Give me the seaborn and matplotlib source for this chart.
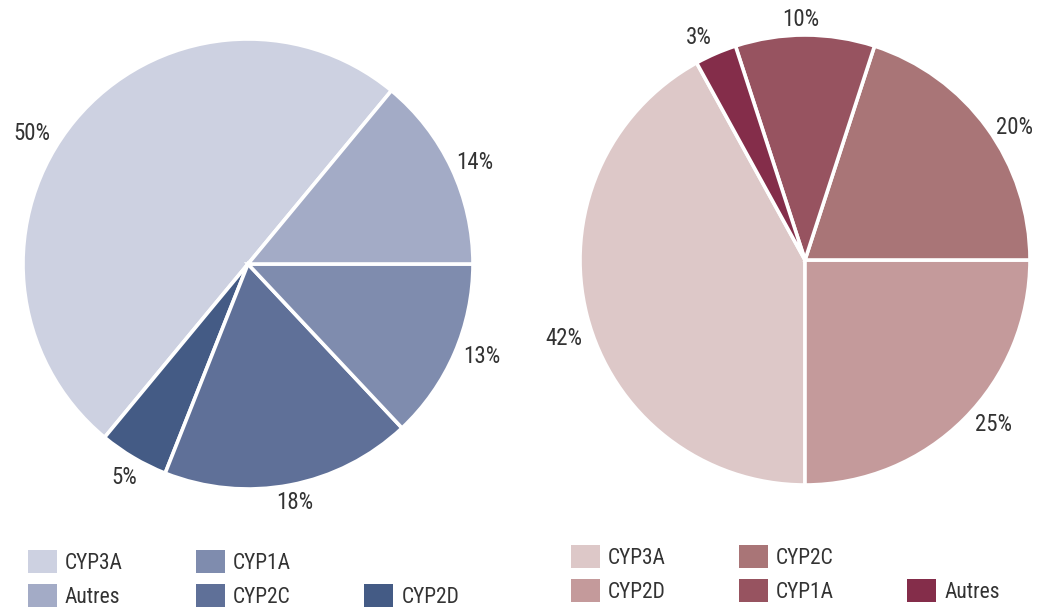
import matplotlib
matplotlib.use('Agg')
from matplotlib import pyplot as plt
from matplotlib import font_manager
from matplotlib.patches import Patch
import seaborn as sns

# Data, in drawing order (counter-clockwise from the start angle)
categories = ['CYP3A', 'CYP2D', 'CYP2C', 'CYP1A', 'Autres']
left_values = [50, 5, 18, 13, 14]
right_values = [42, 25, 20, 10, 3]

left_colors = ['#CDD1E1', '#445B85', '#5F7098', '#7F8CAE', '#A3ABC6']
right_colors = ['#DDC8C8', '#C49A9B', '#A97577', '#975360', '#842D4A']

# Legend order (column-wise, None = empty slot)
left_legend = ['CYP3A', 'Autres', 'CYP1A', 'CYP2C', None, 'CYP2D']
right_legend = ['CYP3A', 'CYP2D', 'CYP2C', 'CYP1A', None, 'Autres']

# Label positions in pie data coordinates
left_label_pos = [(-0.96, 0.58), (-0.55, -0.95), (0.21, -1.06), (1.04, -0.41), (1.01, 0.45)]
right_label_pos = [(-1.07, -0.35), (0.84, -0.73), (0.93, 0.59), (-0.02, 1.07), (-0.47, 0.99)]

W, H = 1041, 608
TEXT = '#333333'

sns.set_theme(style='white')

# condensed grotesque, first one that is installed
installed = {f.name for f in font_manager.fontManager.ttflist}
prefs = ['Liberation Sans Narrow', 'Arial Narrow', 'Roboto Condensed', 'Archivo Narrow',
         'PT Sans Narrow', 'Fira Sans Condensed', 'Sofia Sans Condensed', 'Roboto']
family = next(n for n in prefs + ['DejaVu Sans'] if n in installed)
plt.rcParams['font.family'] = [family, 'DejaVu Sans']

fig = plt.figure(figsize=(W / 100, H / 100), dpi=100)


def px_axes(x0, y0, size):
    return fig.add_axes([x0 / W, 1 - (y0 + size) / H, size / W, size / H])


def draw_pie(ax, values, colors, start, label_pos):
    ax.pie(values, colors=colors, startangle=start, counterclock=True,
           wedgeprops=dict(edgecolor='white', linewidth=2.6))
    for v, (x, y) in zip(values, label_pos):
        ax.text(x, y, f'{v}%', ha='center', va='center', fontsize=16.5, color=TEXT)
    ax.set_xlim(-1, 1)
    ax.set_ylim(-1, 1)
    ax.set_aspect('equal')
    ax.axis('off')


def draw_legend(ax, order, colors, x0, y0):
    cmap = dict(zip(categories, colors))
    handles, labels = [], []
    for name in order:
        if name is None:
            handles.append(Patch(visible=False))
            labels.append('')
        else:
            handles.append(Patch(facecolor=cmap[name], edgecolor='none'))
            labels.append(name)
    ax.legend(handles, labels, ncol=3, loc='upper left',
              bbox_to_anchor=(x0 / W, 1 - y0 / H), bbox_transform=fig.transFigure,
              frameon=False, fontsize=15.5, handlelength=1.35, handleheight=1.25,
              handletextpad=0.37, columnspacing=3.4, labelspacing=0.5,
              borderpad=0, borderaxespad=0, labelcolor=TEXT)


ax_left = px_axes(23, 39, 450)
ax_right = px_axes(580, 35, 450)

draw_pie(ax_left, left_values, left_colors, 50.4, left_label_pos)
draw_pie(ax_right, right_values, right_colors, 118.8, right_label_pos)

draw_legend(ax_left, left_legend, left_colors, 28, 550)
draw_legend(ax_right, right_legend, right_colors, 571, 545)

fig.savefig('out.png', dpi=100)
